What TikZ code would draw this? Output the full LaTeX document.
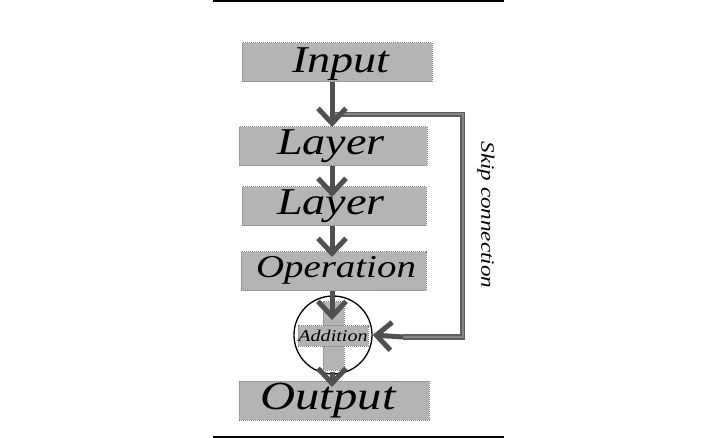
\documentclass[tikz,border=0pt]{standalone}
\usepackage{fontspec}
\newfontfamily\hand[FakeStretch=1.22]{Liberation Serif}
\usetikzlibrary{arrows.meta}
\definecolor{boxfill}{HTML}{B4B4B4}
\definecolor{boxline}{HTML}{808080}
\definecolor{arrowc}{HTML}{505050}
\definecolor{skipc}{HTML}{5E5E5E}
\definecolor{skipin}{HTML}{858585}
\tikzset{
  blk/.style={draw=boxline, fill=boxfill, line width=1bp, densely dotted, inner sep=0pt, minimum height=39bp},
  flow/.style={draw=arrowc, line width=5bp, -{Straight Barb[length=15bp,width=28bp,line width=5bp]}},
  skipline/.style={draw=skipc, line width=1.7bp, double=skipin, double distance=2bp},
  rule/.style={draw=black, line width=1.3bp}
}
\begin{document}
\begin{tikzpicture}[x=1bp,y=-1bp]
\useasboundingbox (0,0) rectangle (718,438);
\coordinate (tl) at (213,1); \coordinate (tr) at (504,1);
\coordinate (bl) at (213,437); \coordinate (br) at (504,437);
\draw[rule] (tl) -- (tr);
\draw[rule] (bl) -- (br);
% boxes
\node[blk, minimum width=190bp] (input) at (337,62.5) {};
\node[blk, minimum width=188bp] (layer1) at (333,146.5) {};
\node[blk, minimum width=184bp] (layer2) at (334,206.5) {};
\node[blk, minimum width=185bp] (oper) at (333.5,271.5) {};
\node[blk, minimum width=190bp] (output) at (334,400.5) {};
% addition circle
\node[draw=black, fill=white, circle, line width=1.3bp, minimum size=78bp, inner sep=0pt] (add) at (333,335) {};
\node[blk, minimum width=21bp, minimum height=68bp] (bar) at (333.5,336) {};
\node[blk, minimum width=70bp, minimum height=20bp] (addlab) at (333,336) {};
% texts
\node at (341,64) {\hand\itshape\fontsize{38}{38}\selectfont Input};
\node at (331,146) {\hand\itshape\fontsize{38}{38}\selectfont Layer};
\node at (331,206) {\hand\itshape\fontsize{38}{38}\selectfont Layer};
\node at (336,270) {\hand\itshape\fontsize{32}{32}\selectfont Operation};
\node at (333,336) {\hand\itshape\fontsize{16.5}{16.5}\selectfont Addition};
\node at (328,401) {\hand\itshape\fontsize{40}{40}\selectfont Output};
\node[rotate=-90] (skiplab) at (486,215) {\hand\itshape\fontsize{19}{19}\selectfont Skip connection};
% skip connection
\coordinate (s0) at (333,114.5);
\coordinate (s1) at (462.5,114.5);
\coordinate (s2) at (462.5,337);
\coordinate (s3) at (403,337);
\draw[skipline] (s0) -- (s1) -- (s2) -- (s3);
% flow arrows
\coordinate (a1) at (332,127);
\coordinate (a2) at (332,197);
\coordinate (a3) at (332,257);
\coordinate (a4) at (332,320);
\coordinate (a5) at (332,387);
\draw[flow] (332,82) -- (a1);
\draw[flow] (332,166) -- (a2);
\draw[flow] (332,226) -- (a3);
\draw[flow] (332,291) -- (a4);
\draw[flow] (332,372) -- (a5);
\draw[flow] (s3) -- (add.east);
\end{tikzpicture}
\end{document}
